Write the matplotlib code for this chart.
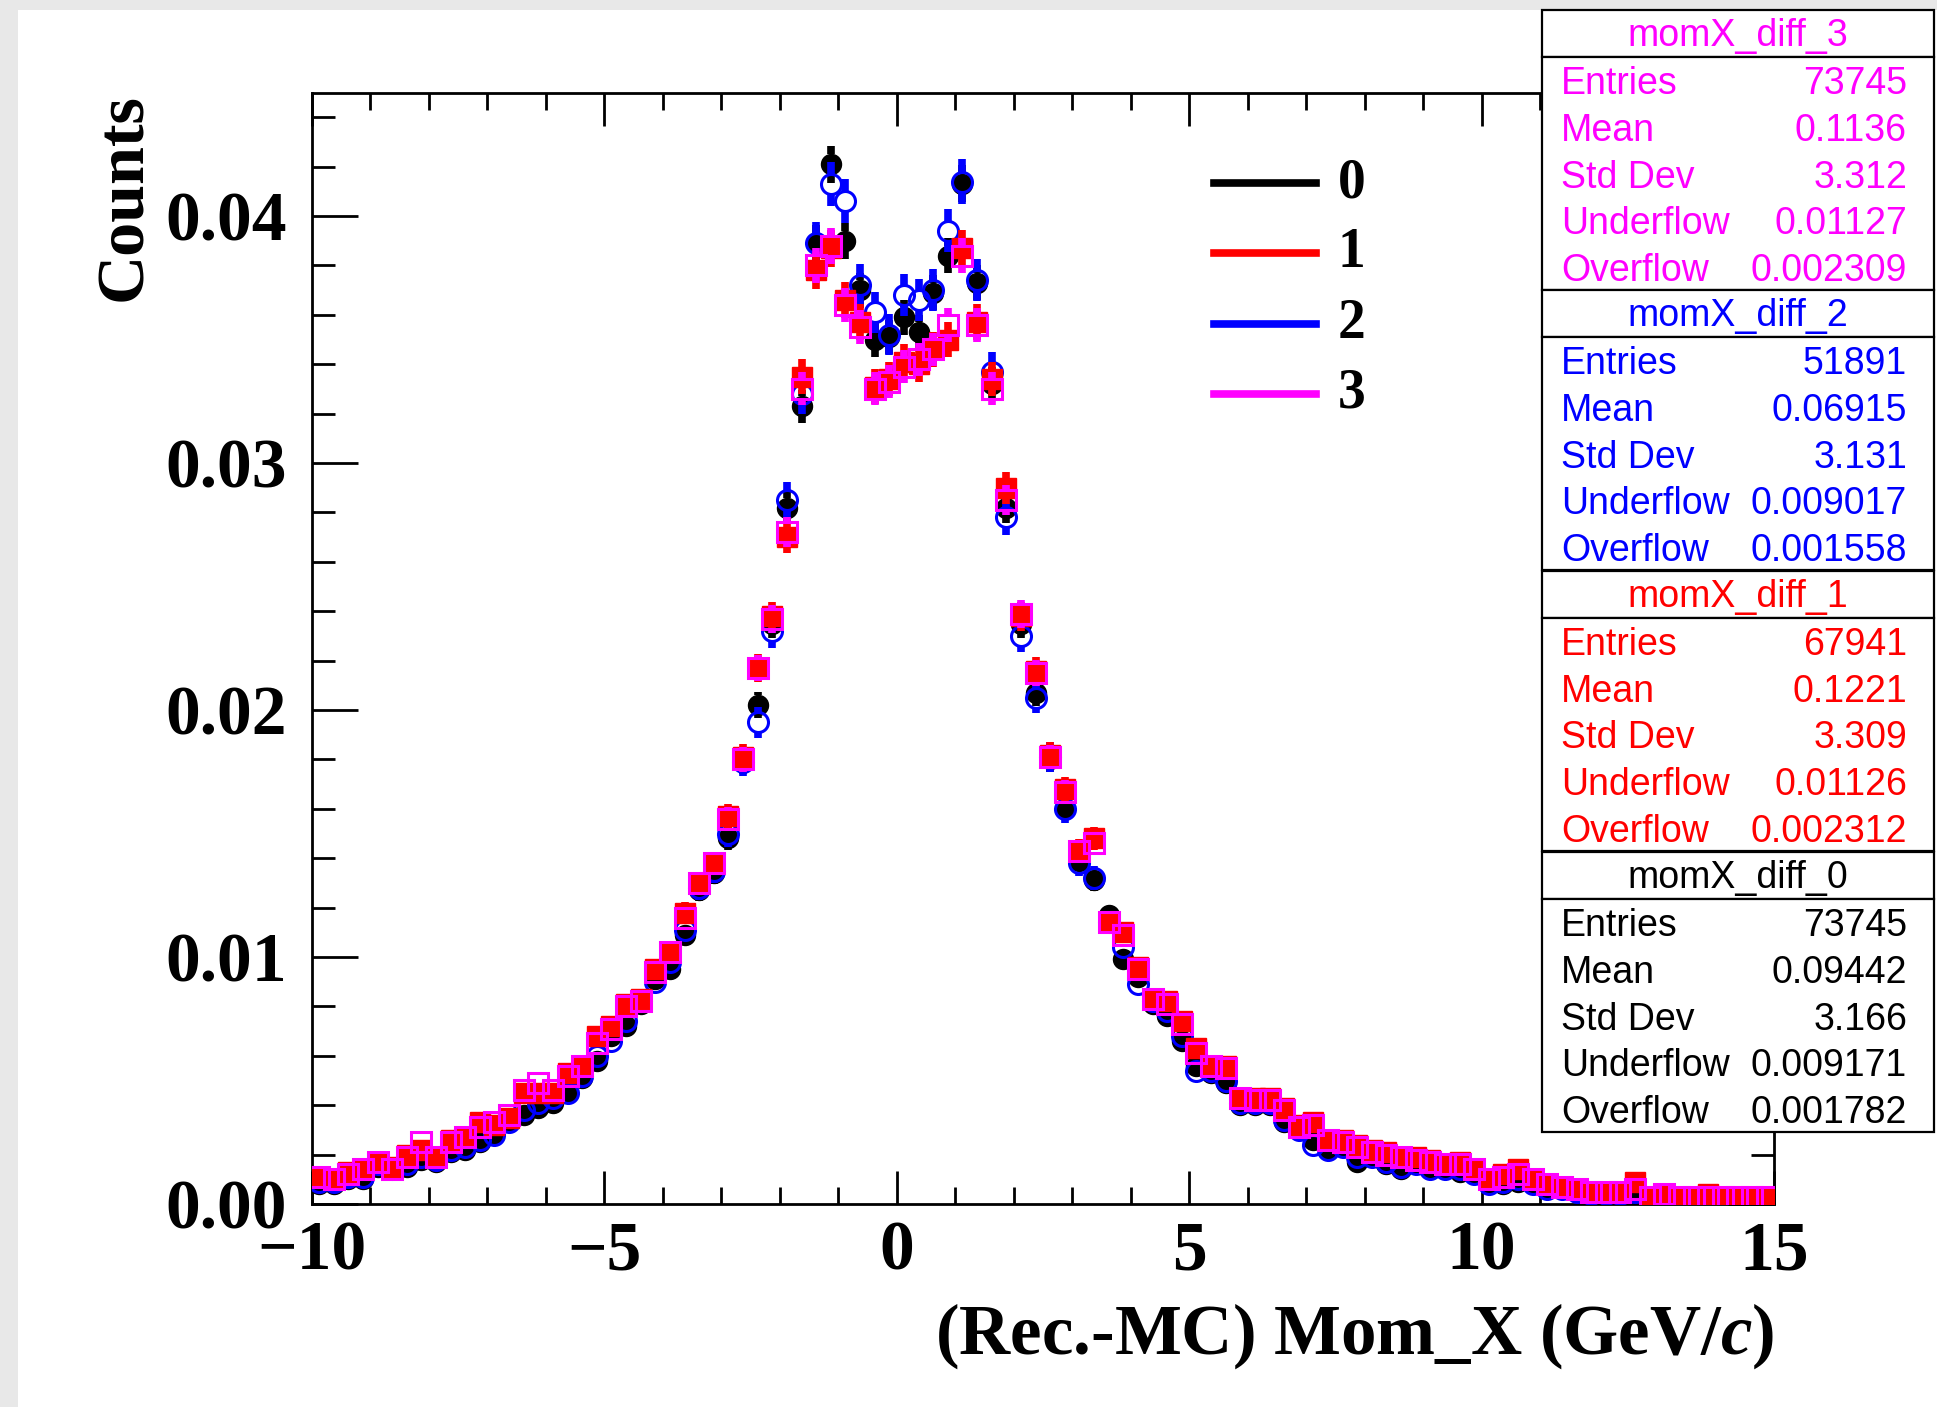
import numpy as np
import matplotlib
matplotlib.use("Agg")
import matplotlib.pyplot as plt
from matplotlib.ticker import MultipleLocator, FormatStrFormatter
from matplotlib.patches import Rectangle
from matplotlib.lines import Line2D

# -------------------------
# Data (normalised histograms, 100 bins from -10 to 15)
# -------------------------
bin_edges = np.linspace(-10, 15, 101)
bin_centers = 0.5 * (bin_edges[:-1] + bin_edges[1:])

counts_0 = [
    0.0008, 0.0008, 0.0010, 0.0010, 0.0015, 0.0014, 0.0015, 0.0018, 0.0017, 0.0021,
    0.0022, 0.0025, 0.0028, 0.0033, 0.0036, 0.0039, 0.0041, 0.0045, 0.0051, 0.0058,
    0.0068, 0.0072, 0.0081, 0.0091, 0.0095, 0.0109, 0.0127, 0.0134, 0.0148, 0.0179,
    0.0202, 0.0235, 0.0282, 0.0323, 0.0389, 0.0421, 0.0390, 0.0370, 0.0350, 0.0351,
    0.0359, 0.0353, 0.0369, 0.0384, 0.0413, 0.0373, 0.0332, 0.0282, 0.0235, 0.0207,
    0.0180, 0.0160, 0.0139, 0.0131, 0.0117, 0.0099, 0.0092, 0.0081, 0.0076, 0.0066,
    0.0056, 0.0053, 0.0049, 0.0040, 0.0040, 0.0040, 0.0033, 0.0030, 0.0026, 0.0022,
    0.0023, 0.0017, 0.0019, 0.0016, 0.0014, 0.0016, 0.0014, 0.0014, 0.0013, 0.0012,
    0.0008, 0.0008, 0.0009, 0.0008, 0.0006, 0.0006, 0.0005, 0.0004, 0.0004, 0.0004,
    0.0005, 0.0002, 0.0003, 0.0002, 0.0002, 0.0003, 0.0002, 0.0002, 0.0002, 0.0002,
]

counts_1 = [
    0.0011, 0.0010, 0.0013, 0.0014, 0.0017, 0.0015, 0.0020, 0.0022, 0.0019, 0.0026,
    0.0027, 0.0033, 0.0032, 0.0035, 0.0045, 0.0045, 0.0045, 0.0053, 0.0056, 0.0068,
    0.0072, 0.0081, 0.0083, 0.0095, 0.0102, 0.0118, 0.0130, 0.0138, 0.0157, 0.0181,
    0.0217, 0.0238, 0.0270, 0.0335, 0.0378, 0.0387, 0.0366, 0.0357, 0.0331, 0.0334,
    0.0341, 0.0340, 0.0346, 0.0350, 0.0387, 0.0357, 0.0334, 0.0290, 0.0238, 0.0216,
    0.0182, 0.0168, 0.0143, 0.0148, 0.0114, 0.0110, 0.0096, 0.0083, 0.0082, 0.0074,
    0.0063, 0.0056, 0.0056, 0.0043, 0.0043, 0.0043, 0.0039, 0.0032, 0.0033, 0.0026,
    0.0026, 0.0024, 0.0022, 0.0021, 0.0019, 0.0019, 0.0018, 0.0016, 0.0017, 0.0014,
    0.0010, 0.0012, 0.0014, 0.0010, 0.0008, 0.0007, 0.0006, 0.0005, 0.0005, 0.0005,
    0.0009, 0.0003, 0.0004, 0.0003, 0.0003, 0.0004, 0.0003, 0.0003, 0.0003, 0.0003,
]

counts_2 = [
    0.0009, 0.0009, 0.0011, 0.0011, 0.0016, 0.0014, 0.0016, 0.0019, 0.0018, 0.0022,
    0.0023, 0.0026, 0.0028, 0.0033, 0.0038, 0.0041, 0.0043, 0.0045, 0.0052, 0.0060,
    0.0066, 0.0074, 0.0082, 0.0090, 0.0098, 0.0111, 0.0128, 0.0135, 0.0150, 0.0179,
    0.0195, 0.0232, 0.0285, 0.0328, 0.0389, 0.0413, 0.0406, 0.0372, 0.0361, 0.0352,
    0.0368, 0.0366, 0.0370, 0.0394, 0.0414, 0.0374, 0.0337, 0.0278, 0.0230, 0.0205,
    0.0181, 0.0160, 0.0138, 0.0132, 0.0114, 0.0104, 0.0089, 0.0082, 0.0078, 0.0068,
    0.0054, 0.0054, 0.0050, 0.0041, 0.0041, 0.0041, 0.0034, 0.0030, 0.0024, 0.0022,
    0.0023, 0.0019, 0.0019, 0.0017, 0.0015, 0.0016, 0.0014, 0.0014, 0.0014, 0.0012,
    0.0008, 0.0009, 0.0010, 0.0008, 0.0006, 0.0006, 0.0005, 0.0004, 0.0004, 0.0004,
    0.0005, 0.0002, 0.0002, 0.0002, 0.0002, 0.0002, 0.0002, 0.0002, 0.0002, 0.0002,
]

counts_3 = [
    0.0011, 0.0010, 0.0012, 0.0014, 0.0017, 0.0014, 0.0019, 0.0025, 0.0019, 0.0025,
    0.0027, 0.0031, 0.0033, 0.0036, 0.0046, 0.0049, 0.0046, 0.0052, 0.0056, 0.0065,
    0.0071, 0.0080, 0.0082, 0.0094, 0.0102, 0.0116, 0.0130, 0.0138, 0.0156, 0.0180,
    0.0217, 0.0237, 0.0272, 0.0330, 0.0380, 0.0388, 0.0364, 0.0355, 0.0330, 0.0333,
    0.0339, 0.0342, 0.0346, 0.0356, 0.0384, 0.0356, 0.0330, 0.0285, 0.0239, 0.0215,
    0.0181, 0.0167, 0.0143, 0.0146, 0.0114, 0.0109, 0.0095, 0.0083, 0.0081, 0.0073,
    0.0061, 0.0056, 0.0055, 0.0043, 0.0042, 0.0042, 0.0038, 0.0031, 0.0032, 0.0026,
    0.0025, 0.0023, 0.0021, 0.0020, 0.0019, 0.0018, 0.0017, 0.0016, 0.0016, 0.0014,
    0.0010, 0.0011, 0.0012, 0.0010, 0.0008, 0.0007, 0.0006, 0.0005, 0.0005, 0.0005,
    0.0006, 0.0003, 0.0004, 0.0003, 0.0003, 0.0003, 0.0003, 0.0003, 0.0003, 0.0003,
]

series_labels = ["0", "1", "2", "3"]
entries = [73745, 67941, 51891, 73745]

# stats boxes, top to bottom
stats_titles = ["momX_diff_3", "momX_diff_2", "momX_diff_1", "momX_diff_0"]
stats_names = ["Entries", "Mean", "Std Dev", "Underflow", "Overflow"]
stats_3 = ["73745", "0.1136", "3.312", "0.01127", "0.002309"]
stats_2 = ["51891", "0.06915", "3.131", "0.009017", "0.001558"]
stats_1 = ["67941", "0.1221", "3.309", "0.01126", "0.002312"]
stats_0 = ["73745", "0.09442", "3.166", "0.009171", "0.001782"]

# -------------------------
# Style
# -------------------------
W, H = 1937, 1407
plt.rcParams["mathtext.fontset"] = "custom"
plt.rcParams["mathtext.rm"] = "Liberation Serif:bold"
plt.rcParams["mathtext.it"] = "Liberation Serif:italic:bold"
serif = dict(family="Liberation Serif", weight="bold")
sans = dict(family="Liberation Sans")

colors = ["#000000", "#ff0000", "#0000ff", "#ff00ff"]
markers = ["o", "s", "o", "s"]
filled = [True, True, False, False]
draw_order = [0, 2, 1, 3]
marker_px = 20
ymin, ymax = 0.0, 0.045


def fx(px):
    return px / W


def fy(py):
    return 1 - py / H


fig = plt.figure(figsize=(W / 100, H / 100), dpi=100)
fig.patch.set_facecolor("white")

# grey frame of the screenshot
fig.add_artist(Rectangle((0, 0), fx(18), 1, transform=fig.transFigure,
                         facecolor="#e8e8e8", edgecolor="none", zorder=-5))
fig.add_artist(Rectangle((0, fy(10)), 1, 10 / H, transform=fig.transFigure,
                         facecolor="#e8e8e8", edgecolor="none", zorder=-5))

ax_left, ax_right, ax_top, ax_bottom = 311.7, 1774, 92.6, 1204
ax = fig.add_axes([fx(ax_left), fy(ax_bottom), (ax_right - ax_left) / W,
                   (ax_bottom - ax_top) / H])
ax.set_xlim(-10, 15)
ax.set_ylim(ymin, ymax)

# gap left around each marker by the error bars (ROOT style)
gap = (marker_px / 2) / (ax_bottom - ax_top) * (ymax - ymin)

all_counts = [counts_0, counts_1, counts_2, counts_3]
for k, i in enumerate(draw_order):
    v = np.array(all_counts[i])
    err = np.sqrt(v / entries[i])
    z = 2 + k
    m = err > gap
    ax.vlines(bin_centers[m], v[m] + gap, v[m] + err[m], color=colors[i],
              lw=5.5, zorder=z)
    ax.vlines(bin_centers[m], v[m] - err[m], v[m] - gap, color=colors[i],
              lw=5.5, zorder=z)
    ax.plot(bin_centers, v, linestyle="none", marker=markers[i],
            markersize=14.4, markeredgewidth=2.2 if not filled[i] else 1.0,
            markerfacecolor=colors[i] if filled[i] else "none",
            markeredgecolor=colors[i], zorder=z + 0.5)

# -------------------------
# Axes
# -------------------------
for s in ax.spines.values():
    s.set_linewidth(2)
ax.xaxis.set_major_locator(MultipleLocator(5))
ax.xaxis.set_minor_locator(MultipleLocator(1))
ax.yaxis.set_major_locator(MultipleLocator(0.01))
ax.yaxis.set_minor_locator(MultipleLocator(0.002))
ax.yaxis.set_major_formatter(FormatStrFormatter("%.2f"))
ax.tick_params(axis="both", which="both", direction="in", top=True, right=True, width=2)
ax.tick_params(axis="x", which="major", length=24, pad=12)
ax.tick_params(axis="x", which="minor", length=12)
ax.tick_params(axis="y", which="major", length=33, pad=18)
ax.tick_params(axis="y", which="minor", length=16.5)
for lab in ax.get_xticklabels() + ax.get_yticklabels():
    lab.set_fontfamily("Liberation Serif")
    lab.set_fontweight("bold")
    lab.set_fontsize(50)

fig.text(fx(125), fy(93), "Counts", rotation=90, ha="center", va="top",
         fontsize=49, **serif)
fig.text(fx(ax_right), fy(1336), "(Rec.-MC) Mom_X (GeV/$c$)", ha="right",
         va="center", fontsize=51, **serif)

# -------------------------
# Legend
# -------------------------
legend_rows = [183, 253, 324, 394]
for i, row in enumerate(legend_rows):
    fig.add_artist(Line2D([fx(1214), fx(1316)], [fy(row), fy(row)],
                          transform=fig.transFigure, color=colors[i], lw=5.5))
    fig.text(fx(1338), fy(row), series_labels[i], ha="left", va="center",
             fontsize=40, **serif)

# -------------------------
# Stats boxes
# -------------------------
box_tops = [10, 290, 571, 852]
title_h, body_h = 47, 233
box_x0, box_x1 = 1542, 1934
stats_colors = [colors[3], colors[2], colors[1], colors[0]]
stats_vals = [stats_3, stats_2, stats_1, stats_0]
for b, top in enumerate(box_tops):
    c = stats_colors[b]
    for y0, h in [(top, title_h), (top + title_h, body_h)]:
        fig.add_artist(Rectangle((fx(box_x0), fy(y0 + h)), (box_x1 - box_x0) / W, h / H,
                                 transform=fig.transFigure, facecolor="white",
                                 edgecolor="black", lw=1.6, zorder=10))
    fig.text(fx((box_x0 + box_x1) / 2), fy(top + title_h / 2 + 2), stats_titles[b],
             ha="center", va="center", fontsize=27, color=c, zorder=11, **sans)
    for j, name in enumerate(stats_names):
        ry = top + title_h + (j + 0.5) * body_h / 5 + 4
        fig.text(fx(1561), fy(ry), name, ha="left", va="center", fontsize=27,
                 color=c, zorder=11, **sans)
        fig.text(fx(1907), fy(ry), stats_vals[b][j], ha="right", va="center",
                 fontsize=27, color=c, zorder=11, **sans)

fig.savefig("out.png", dpi=100)
